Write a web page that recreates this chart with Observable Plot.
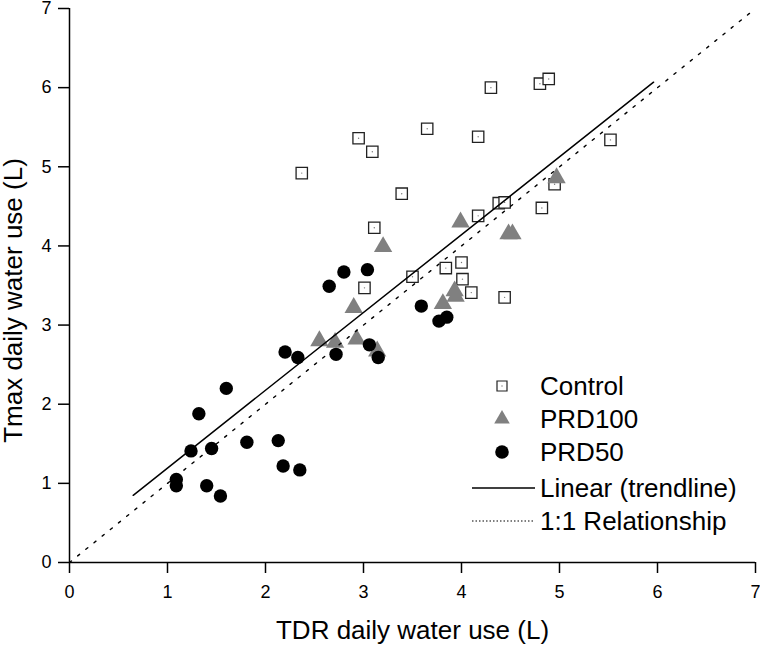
<!DOCTYPE html>
<html><head><meta charset="utf-8">
<script src="https://cdn.jsdelivr.net/npm/d3@7"></script>
<script src="https://cdn.jsdelivr.net/npm/@observablehq/plot@0.6"></script>
<style>
body{margin:0;background:#fff}
#chart{width:760px;height:646px}
</style>
</head><body><div id="chart"></div>
<script>
// ---- data ----
const controlX = [2.37, 2.95, 3.09, 3.65, 4.30, 4.80, 4.89, 4.17, 3.39, 3.11, 5.52, 4.95, 4.82, 4.17, 4.38, 4.44, 3.50, 3.01, 3.84, 4.00, 4.01, 4.10, 4.44];
const controlY = [4.92, 5.36, 5.19, 5.48, 6.00, 6.05, 6.11, 5.38, 4.66, 4.23, 5.34, 4.78, 4.48, 4.38, 4.54, 4.55, 3.61, 3.47, 3.72, 3.79, 3.58, 3.41, 3.35];
const prd100X = [3.20, 3.99, 4.97, 4.48, 4.52, 2.90, 3.93, 3.94, 3.81, 2.55, 2.71, 2.93, 3.14];
const prd100Y = [3.99, 4.30, 4.86, 4.15, 4.15, 3.22, 3.43, 3.36, 3.27, 2.80, 2.78, 2.82, 2.67];
const prd50X = [2.80, 3.04, 2.65, 3.59, 3.77, 3.85, 2.20, 2.33, 2.72, 3.06, 3.15, 1.60, 1.32, 1.24, 1.45, 1.81, 2.13, 2.18, 2.35, 1.09, 1.09, 1.40, 1.54];
const prd50Y = [3.67, 3.70, 3.49, 3.24, 3.05, 3.10, 2.66, 2.59, 2.63, 2.75, 2.59, 2.20, 1.88, 1.41, 1.44, 1.52, 1.54, 1.22, 1.17, 1.05, 0.97, 0.97, 0.84];
const trendSlope = 0.983;
const trendIntercept = 0.21;
const trendRange = [0.65, 5.96];
const oneToOneRange = [0, 7];
const xTicks = [0, 1, 2, 3, 4, 5, 6, 7];
const yTicks = [0, 1, 2, 3, 4, 5, 6, 7];
const seriesNames = ["Control", "PRD100", "PRD50", "Linear (trendline)", "1:1 Relationship"];
const xTitle = "TDR daily water use (L)";
const yTitle = "Tmax daily water use (L)";

// ---- build tables ----
const control = controlX.map((x, i) => ({x, y: controlY[i]}));
const prd100 = prd100X.map((x, i) => ({x, y: prd100Y[i]}));
const prd50 = prd50X.map((x, i) => ({x, y: prd50Y[i]}));
const trend = trendRange.map(x => ({x, y: trendIntercept + trendSlope * x}));
const oneToOne = oneToOneRange.map(x => ({x, y: x}));

const FONT = "'Liberation Sans', Arial, Helvetica, sans-serif";

const svg = Plot.plot({
  width: 760,
  height: 646,
  marginLeft: 69,
  marginRight: 5,
  marginTop: 8,
  marginBottom: 84,
  style: {fontFamily: FONT, background: "#fff", color: "#000", overflow: "visible"},
  x: {domain: [0, 7]},
  y: {domain: [0, 7]},
  marks: [
    Plot.axisX({ticks: xTicks, tickSize: 11, tickPadding: 12, fontSize: 18, strokeWidth: 1.5, label: null, tickFormat: d => String(d)}),
    Plot.axisY({ticks: yTicks, tickSize: 11, tickPadding: 7, fontSize: 18, strokeWidth: 1.5, label: null, tickFormat: d => String(d)}),
    Plot.ruleY([0], {strokeWidth: 1.5}),
    Plot.ruleX([0], {strokeWidth: 1.5}),
    Plot.dot(control, {x: "x", y: "y", symbol: "square", r: 6.4, fill: "#fff", stroke: "#222", strokeWidth: 1.3}),
    Plot.dot(control, {x: "x", y: "y", r: 0.7, fill: "#777", stroke: null}),
    Plot.dot(prd100, {x: "x", y: "y", symbol: "triangle", r: 6.8, fill: "#808080", stroke: null}),
    Plot.dot(prd50, {x: "x", y: "y", symbol: "circle", r: 6.7, fill: "#000", stroke: null}),
    Plot.line(oneToOne, {x: "x", y: "y", stroke: "#000", strokeWidth: 1.4, strokeDasharray: "2.5,8"}),
    Plot.line(trend, {x: "x", y: "y", stroke: "#000", strokeWidth: 1.5}),
    Plot.text([xTitle], {frameAnchor: "bottom", textAnchor: "middle", lineAnchor: "middle", dy: 67.7, fontSize: 26, fill: "#000"}),
    Plot.text([yTitle], {frameAnchor: "left", textAnchor: "middle", lineAnchor: "middle", rotate: -90, dx: -55.5, dy: 15, fontSize: 26, fill: "#000"})
  ]
});

// ---- legend (inside plot, drawn in the same svg) ----
const leg = d3.select(svg).append("g").attr("font-family", FONT).attr("font-size", 26).attr("text-anchor", "start");
const rows = [386, 419, 452, 488, 521];
const mx = 502, tx = 540;
const sym = (type, size) => d3.symbol().type(type).size(size)();
leg.append("path").attr("d", sym(d3.symbolSquare, 100)).attr("transform", `translate(${mx},${rows[0]})`)
  .attr("fill", "#fff").attr("stroke", "#222").attr("stroke-width", 1.2);
leg.append("circle").attr("cx", mx).attr("cy", rows[0]).attr("r", 0.7).attr("fill", "#777");
leg.append("path").attr("d", sym(d3.symbolTriangle, 105)).attr("transform", `translate(${mx},${rows[1]})`)
  .attr("fill", "#808080");
leg.append("circle").attr("cx", mx).attr("cy", rows[2]).attr("r", 6.8).attr("fill", "#000");
leg.append("line").attr("x1", 472).attr("x2", 535).attr("y1", rows[3]).attr("y2", rows[3])
  .attr("stroke", "#000").attr("stroke-width", 1.4);
leg.append("line").attr("x1", 472).attr("x2", 535).attr("y1", rows[4]).attr("y2", rows[4])
  .attr("stroke", "#000").attr("stroke-width", 1.2).attr("stroke-dasharray", "1.5,2");
seriesNames.forEach((name, i) => {
  leg.append("text").attr("x", tx).attr("y", rows[i]).attr("dy", "0.35em").attr("text-anchor", "start").attr("fill", "#000").text(name);
});

document.getElementById("chart").appendChild(svg);
</script>
</body></html>
